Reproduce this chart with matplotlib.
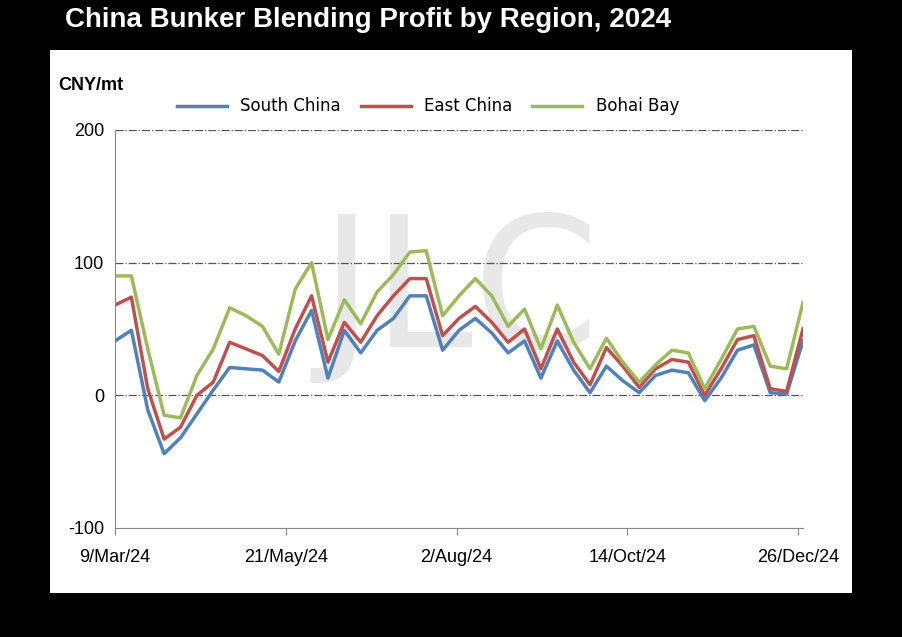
import matplotlib as mpl
mpl.use('Agg')
import matplotlib.pyplot as plt
import matplotlib.dates as mdates
import pandas as pd
from matplotlib.patches import Rectangle

plt.rcParams['axes.unicode_minus'] = False

# weekly assessments starting 9 Mar 2024
dates = pd.date_range('2024-03-09', periods=43, freq='7D')
south = [41, 49, -11, -44, -32, -14, 4, 21, 20, 19, 10, 41, 64, 13, 49, 32, 49, 58, 75, 75,
         34, 49, 58, 47, 32, 41, 13, 41, 19, 2, 22, 11, 2, 15, 19, 17, -4, 13, 34, 38, 2, 1, 41]
east = [68, 74, 5, -33, -24, 0, 10, 40, 35, 30, 18, 50, 75, 25, 55, 40, 60, 75, 88, 88,
        45, 58, 67, 55, 40, 50, 20, 50, 25, 8, 36, 22, 6, 20, 27, 25, 0, 20, 42, 45, 5, 3, 50]
bohai = [90, 90, 35, -15, -17, 15, 35, 66, 60, 52, 31, 80, 100, 42, 72, 54, 78, 91, 108, 109,
         60, 75, 88, 75, 52, 65, 35, 68, 40, 20, 43, 25, 10, 23, 34, 32, 5, 27, 50, 52, 22, 20, 70]
tick_dates = pd.to_datetime(['2024-03-09', '2024-05-21', '2024-08-02', '2024-10-14', '2024-12-26'])

fig = plt.figure(figsize=(9.02, 6.37), dpi=100, facecolor='black')
fig.patches.append(Rectangle((50/902, 1-593/637), 802/902, 543/637, transform=fig.transFigure,
                             facecolor='white', edgecolor='none', zorder=-10))
fig.text(65/902, 1-20/637, 'China Bunker Blending Profit by Region, 2024', color='white',
         fontsize=20, fontweight='bold', va='center', family='Liberation Sans')
fig.text(58/902, 1-86/637, 'CNY/mt', fontsize=13, fontweight='bold', va='center', family='Liberation Sans')

ax = fig.add_axes([115/902, 1-528/637, 688/902, 398/637])
ax.patch.set_alpha(0)
ax.text(0.5, 0.58, 'JLC', transform=ax.transAxes, fontsize=130, color='#e8e8e8',
        ha='center', va='center', zorder=0)
ax.plot(dates, south, color='#4f81bd', lw=2.5, label='South China')
ax.plot(dates, east, color='#c0504d', lw=2.5, label='East China')
ax.plot(dates, bohai, color='#9bbb59', lw=2.5, label='Bohai Bay')

ax.set_ylim(-100, 200)
ax.set_yticks([-100, 0, 100, 200])
ax.set_xlim(dates[0], dates[-1])
ax.set_xticks(tick_dates)
ax.xaxis.set_major_formatter(mdates.DateFormatter('%-d/%b/%y'))
for y in [0, 100, 200]:
    ax.axhline(y, color='#555555', lw=0.9, ls='-.', zorder=0)
for s in ['top', 'right']:
    ax.spines[s].set_visible(False)
for s in ['left', 'bottom']:
    ax.spines[s].set_color('#888888')
ax.tick_params(axis='y', length=0, labelsize=13, pad=8)
ax.tick_params(axis='x', direction='out', length=5, color='#888888', labelsize=13, pad=10)
for lab in ax.get_xticklabels() + ax.get_yticklabels():
    lab.set_family('Liberation Sans')

ax.legend(loc='lower left', bbox_to_anchor=(0.08, 1.02), ncol=3, frameon=False,
          fontsize=12, handlelength=3, columnspacing=1.2, borderaxespad=0)
fig.savefig('out.png', facecolor='black')
